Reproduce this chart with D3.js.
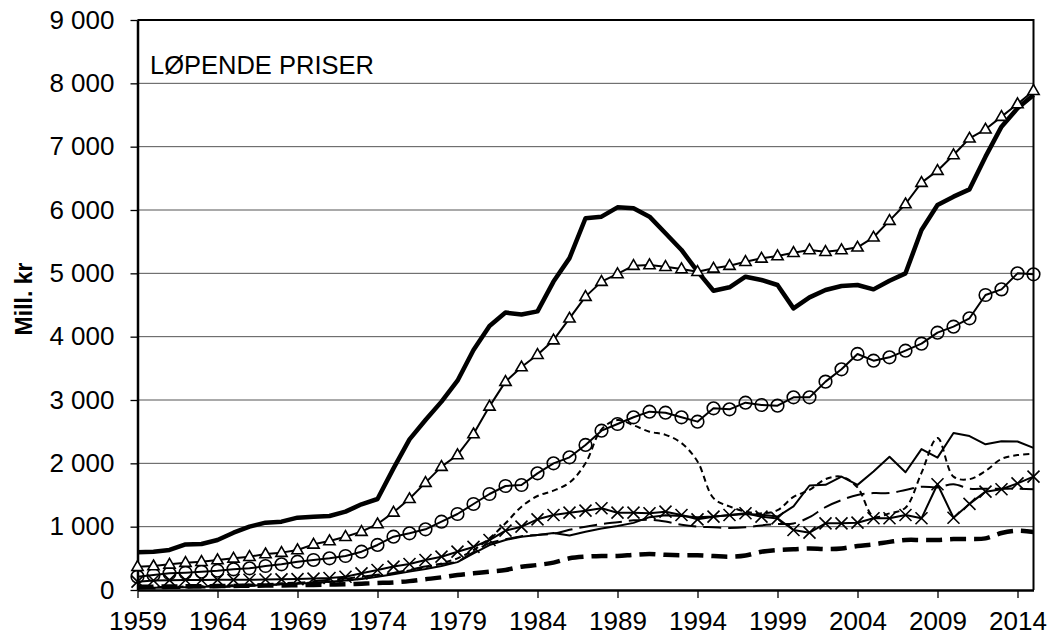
<!DOCTYPE html>
<html>
<head>
<meta charset="utf-8">
<script src="https://cdn.jsdelivr.net/npm/d3@7"></script>
<style>
  body { margin: 0; background: #fff; }
  svg text { font-family: "Liberation Sans", Arial, sans-serif; fill: #000; }
</style>
</head>
<body>
<div id="chart"></div>
<script>
// years on the category axis
const years = [1959, 1960, 1961, 1962, 1963, 1964, 1965, 1966, 1967, 1968,
  1969, 1970, 1971, 1972, 1973, 1974, 1975, 1976, 1977, 1978,
  1979, 1980, 1981, 1982, 1983, 1984, 1985, 1986, 1987, 1988,
  1989, 1990, 1991, 1992, 1993, 1994, 1995, 1996, 1997, 1998,
  1999, 2000, 2001, 2002, 2003, 2004, 2005, 2006, 2007, 2008,
  2009, 2010, 2011, 2012, 2013, 2014, 2015];

const xTickYears = [1959, 1964, 1969, 1974, 1979, 1984, 1989, 1994, 1999, 2004, 2009, 2014];
const yTicks = [0, 1000, 2000, 3000, 4000, 5000, 6000, 7000, 8000, 9000];

// thick solid line
const thickSolid = [595, 605, 632, 720, 726, 789, 905, 1000, 1063, 1079,
  1142, 1158, 1168, 1237, 1353, 1437, 1921, 2379, 2684, 2974,
  3305, 3790, 4170, 4380, 4350, 4400, 4870, 5240, 5870, 5895,
  6042, 6026, 5895, 5632, 5369, 5030, 4726, 4780, 4947, 4895,
  4816, 4447, 4620, 4737, 4800, 4816, 4747, 4884, 5000, 5684,
  6079, 6211, 6326, 6842, 7316, 7606, 7816];

// thin line, triangle markers
const triangles = [368, 379, 405, 432, 447, 474, 500, 526, 568, 590,
  632, 721, 774, 842, 921, 1042, 1226, 1440, 1695, 1948,
  2132, 2463, 2900, 3290, 3520, 3715, 3945, 4290, 4632, 4869,
  4990, 5121, 5132, 5105, 5069, 5026, 5079, 5121, 5184, 5237,
  5274, 5326, 5369, 5342, 5369, 5411, 5569, 5832, 6095, 6432,
  6621, 6869, 7132, 7274, 7474, 7674, 7884];

// thin line, circle markers
const circles = [211, 237, 263, 274, 290, 305, 326, 342, 379, 405,
  447, 474, 500, 537, 605, 711, 842, 895, 958, 1079,
  1200, 1358, 1516, 1642, 1658, 1842, 2000, 2095, 2290, 2516,
  2621, 2727, 2816, 2800, 2727, 2658, 2869, 2853, 2958, 2921,
  2911, 3042, 3042, 3290, 3485, 3727, 3621, 3674, 3779, 3890,
  4063, 4158, 4290, 4658, 4747, 5000, 4984];

// thin short-dashed line
const shortDash = [40, 45, 50, 55, 60, 65, 75, 85, 95, 105,
  115, 115, 130, 150, 180, 220, 260, 310, 360, 420,
  500, 630, 816, 1053, 1316, 1484, 1569, 1695, 2000, 2537,
  2684, 2600, 2500, 2450, 2320, 2030, 1450, 1320, 1240, 1210,
  1260, 1470, 1580, 1750, 1790, 1620, 1160, 1210, 1300, 1850,
  2400, 1790, 1750, 1880, 2070, 2130, 2150];

// thin solid line
const thinSolid = [30, 35, 40, 45, 50, 55, 60, 70, 80, 90,
  100, 115, 130, 150, 175, 210, 250, 290, 330, 380,
  440, 580, 710, 790, 840, 870, 900, 860, 920, 970,
  1010, 1060, 1150, 1180, 1170, 1150, 1160, 1180, 1200, 1190,
  1160, 1320, 1650, 1660, 1790, 1660, 1870, 2105, 1860, 2225,
  2090, 2480, 2430, 2300, 2350, 2345, 2245];

// thin long-dashed line
const longDash = [20, 25, 30, 35, 40, 45, 55, 65, 75, 90,
  105, 140, 160, 180, 210, 240, 270, 320, 370, 410,
  450, 600, 740, 800, 850, 870, 890, 950, 1000, 1040,
  1070, 1100, 1110, 1080, 1030, 1000, 990, 980, 990, 1020,
  1040, 1050, 1150, 1310, 1420, 1500, 1530, 1530, 1580, 1630,
  1620, 1670, 1600, 1600, 1600, 1600, 1590];

// thin line, x markers
const crosses = [132, 150, 155, 158, 158, 160, 160, 162, 165, 168,
  172, 180, 190, 210, 263, 316, 370, 411, 474, 526,
  605, 680, 789, 937, 1000, 1116, 1184, 1221, 1253, 1290,
  1221, 1221, 1211, 1237, 1184, 1116, 1158, 1184, 1211, 1158,
  1130, 947, 905, 1053, 1053, 1063, 1132, 1132, 1184, 1132,
  1670, 1140, 1360, 1553, 1590, 1684, 1790];

// thick dashed line
const thickDash = [50, 52, 55, 58, 60, 62, 65, 68, 70, 72,
  75, 80, 85, 90, 100, 110, 120, 140, 170, 200,
  237, 263, 290, 316, 368, 395, 432, 500, 526, 537,
  537, 555, 570, 555, 548, 550, 537, 526, 545, 605,
  632, 642, 655, 645, 655, 695, 720, 760, 790, 790,
  790, 805, 805, 815, 900, 935, 915];

const width = 1049;
const height = 639;
const margin = { top: 20, right: 15.5, bottom: 49, left: 137.5 };

const svg = d3.select("#chart").append("svg")
  .attr("width", width)
  .attr("height", height);

const x = d3.scaleLinear()
  .domain([1959, 2015])
  .range([margin.left, width - margin.right]);

const y = d3.scaleLinear()
  .domain([0, 9000])
  .range([height - margin.bottom, margin.top]);

// gridlines
svg.append("g")
  .selectAll("line")
  .data(yTicks.filter(d => d > 0))
  .enter()
  .append("line")
  .attr("x1", x(1959))
  .attr("x2", x(2015))
  .attr("y1", d => y(d))
  .attr("y2", d => y(d))
  .attr("stroke", "#555")
  .attr("stroke-width", 1);

// frame top + right
svg.append("path")
  .attr("d", `M${x(1959)},${y(9000)}H${x(2015)}V${y(0)}`)
  .attr("fill", "none")
  .attr("stroke", "#000")
  .attr("stroke-width", 2);

const fmt = d => d3.format(",")(d).replace(/,/g, " ");

const yAxis = svg.append("g")
  .attr("transform", `translate(${margin.left},0)`)
  .call(d3.axisLeft(y).tickValues(yTicks).tickSize(7).tickSizeOuter(0).tickPadding(16).tickFormat(fmt));

const xAxis = svg.append("g")
  .attr("transform", `translate(0,${height - margin.bottom})`)
  .call(d3.axisBottom(x).tickValues(xTickYears).tickSize(8).tickSizeOuter(0).tickPadding(14).tickFormat(d3.format("d")));

[yAxis, xAxis].forEach(ax => {
  ax.select(".domain").attr("stroke", "#000").attr("stroke-width", 2.5);
  ax.selectAll(".tick line").attr("stroke", "#000").attr("stroke-width", 1.3);
  ax.selectAll("text")
    .style("font-family", "'Liberation Sans', Arial, sans-serif")
    .style("font-size", "26px")
    .attr("fill", "#000");
});

// series
const lineGen = curve => d3.line()
  .x((d, i) => x(years[i]))
  .y(d => y(d))
  .curve(curve);

function drawLine(values, opts) {
  svg.append("path")
    .datum(values)
    .attr("fill", "none")
    .attr("stroke", "#000")
    .attr("stroke-width", opts.w)
    .attr("stroke-dasharray", opts.dash || null)
    .attr("stroke-linejoin", "round")
    .attr("d", lineGen(opts.curve || d3.curveLinear));
}

drawLine(thickDash, { w: 4.5, dash: "16,8", curve: d3.curveCatmullRom });
drawLine(longDash, { w: 2, dash: "18,7", curve: d3.curveCatmullRom });
drawLine(thinSolid, { w: 2 });
drawLine(shortDash, { w: 2, dash: "6,4", curve: d3.curveCatmullRom });
drawLine(crosses, { w: 2 });

svg.append("g")
  .selectAll("path")
  .data(crosses)
  .enter()
  .append("path")
  .attr("transform", (d, i) => `translate(${x(years[i])},${y(d)})`)
  .attr("d", "M-6,-6L6,6M-6,6L6,-6")
  .attr("stroke", "#000")
  .attr("stroke-width", 1.6);

drawLine(circles, { w: 2 });

svg.append("g")
  .selectAll("circle")
  .data(circles)
  .enter()
  .append("circle")
  .attr("cx", (d, i) => x(years[i]))
  .attr("cy", d => y(d))
  .attr("r", 6.3)
  .attr("fill", "none")
  .attr("stroke", "#000")
  .attr("stroke-width", 1.6);

drawLine(thickSolid, { w: 4.5 });
drawLine(triangles, { w: 2 });

svg.append("g")
  .selectAll("path")
  .data(triangles)
  .enter()
  .append("path")
  .attr("transform", (d, i) => `translate(${x(years[i])},${y(d) + 0.5})`)
  .attr("d", d3.symbol(d3.symbolTriangle, 55))
  .attr("fill", "#fff")
  .attr("stroke", "#000")
  .attr("stroke-width", 1.6);

// labels
svg.append("text")
  .attr("x", 150)
  .attr("y", 74)
  .style("font-size", "25.5px")
  .text("LØPENDE PRISER");

svg.append("text")
  .attr("transform", `translate(32,299) rotate(-90)`)
  .attr("text-anchor", "middle")
  .style("font-size", "23px")
  .style("font-weight", "bold")
  .text("Mill. kr");
</script>
</body>
</html>
